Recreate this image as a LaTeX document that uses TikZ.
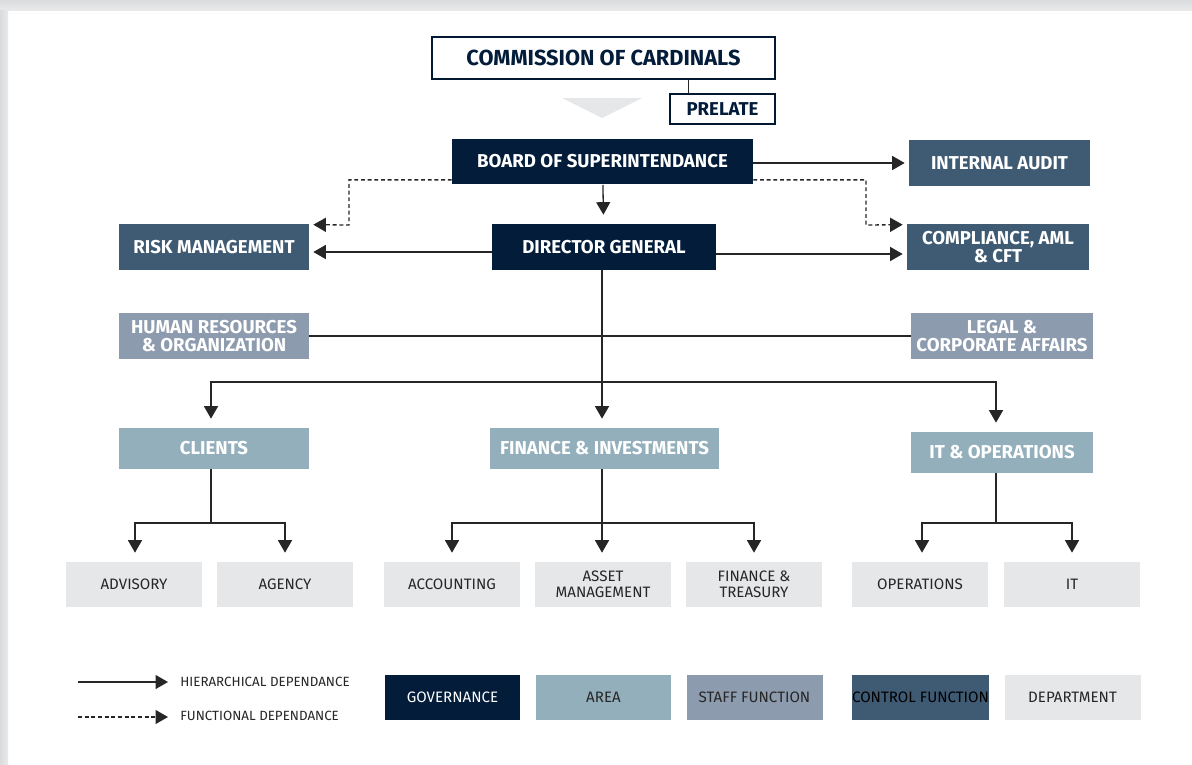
\documentclass[tikz,border=0pt]{standalone}
\usepackage{fontspec}
\setmainfont{Fira Sans}
\usetikzlibrary{arrows.meta,positioning,calc}

\definecolor{navy}{HTML}{021C3A}
\definecolor{control}{HTML}{3F5A73}
\definecolor{staff}{HTML}{8D9BAF}
\definecolor{area}{HTML}{94AFBC}
\definecolor{dept}{HTML}{E6E7E8}
\definecolor{shadow}{HTML}{DADBDC}

\begin{document}
\begin{tikzpicture}[x=0.02cm, y=-0.02cm]

    % Styles
    \tikzstyle{box} = [rectangle, inner sep=0pt, align=center, minimum height=0.92cm]
    \tikzstyle{headtxt} = [font=\bfseries\fontsize{10.6}{10.2}\selectfont]
    \tikzstyle{topbox} = [box, draw=navy!85!black, line width=0.8pt, fill=white, text=navy, headtxt]
    \tikzstyle{governance} = [box, fill=navy, text=white, headtxt]
    \tikzstyle{controlfn} = [box, fill=control, text=white, headtxt]
    \tikzstyle{stafffn} = [box, fill=staff, text=white, headtxt]
    \tikzstyle{areabox} = [box, fill=area, text=white, headtxt, minimum height=0.82cm]
    \tikzstyle{deptbox} = [box, fill=dept, text=black!85, minimum width=2.72cm, minimum height=0.9cm, font=\fontsize{8.6}{8.8}\selectfont]
    \tikzstyle{legendbox} = [deptbox]
    \tikzstyle{legendtxt} = [anchor=west, inner sep=0pt, text=black!85, font=\fontsize{7.6}{8}\selectfont]
    \tikzstyle{arrow} = [line width=0.75pt, draw=black!85, -{Triangle[width=0.28cm,length=0.25cm]}, shorten >=0.18cm]
    \tikzstyle{sidearrow} = [arrow, shorten >=0.08cm]
    \tikzstyle{funct} = [sidearrow, dash pattern=on 2.2pt off 1.6pt]
    \tikzstyle{plain} = [line width=0.75pt, draw=black!85]

    \useasboundingbox (0,0) rectangle (1192,764);
    \fill[white] (0,0) rectangle (1192,764);
    \shade[top color=shadow, bottom color=shadow!60] (0,0) rectangle (1192,10);
    \shade[left color=shadow, right color=shadow!60] (0,10) rectangle (8,764);

    % Governance
    \node (commission) [topbox, minimum width=6.86cm, minimum height=0.84cm, font=\bfseries\fontsize{12.4}{12.4}\selectfont] at (603.5,58) {COMMISSION OF CARDINALS};
    \node (prelate) [topbox, minimum width=2.1cm, minimum height=0.6cm, line width=0.6pt] at (722.5,109) {PRELATE};
    \fill[dept] (562,98) -- (642,98) -- (602,118) -- cycle;
    \node (board) [governance, minimum width=6.02cm] at (602.5,161.5) {BOARD OF SUPERINTENDANCE};
    \node (audit) [controlfn, minimum width=3.62cm] at (999.5,163) {INTERNAL AUDIT};
    \node (dg) [governance, minimum width=4.48cm] at (604,247) {DIRECTOR GENERAL};
    \node (risk) [controlfn, minimum width=3.8cm] at (214,247) {RISK MANAGEMENT};
    \node (compliance) [controlfn, minimum width=3.64cm] at (998,247) {COMPLIANCE, AML\\\& CFT};

    % Staff functions
    \node (hr) [stafffn, minimum width=3.8cm] at (214,336) {HUMAN RESOURCES\\\& ORGANIZATION};
    \node (legal) [stafffn, minimum width=3.64cm] at (1002,336) {LEGAL \&\\CORPORATE AFFAIRS};

    % Areas
    \node (clients) [areabox, minimum width=3.8cm] at (214,448.5) {CLIENTS};
    \node (finance) [areabox, minimum width=4.58cm] at (604.5,448.5) {FINANCE \& INVESTMENTS};
    \node (itops) [areabox, minimum width=3.64cm] at (1002,452.5) {IT \& OPERATIONS};

    % Departments
    \node (advisory) [deptbox] at (134,584.5) {ADVISORY};
    \node (agency) [deptbox] at (285,584.5) {AGENCY};
    \node (accounting) [deptbox] at (452,584.5) {ACCOUNTING};
    \node (asset) [deptbox] at (603,584.5) {ASSET\\MANAGEMENT};
    \node (treasury) [deptbox] at (754,584.5) {FINANCE \&\\TREASURY};
    \node (operations) [deptbox] at (920,584.5) {OPERATIONS};
    \node (it) [deptbox] at (1072,584.5) {IT};

    % Branch points
    \coordinate (split) at (602,382);
    \coordinate (clsplit) at (211,523);
    \coordinate (fisplit) at (602,523);
    \coordinate (itsplit) at (996,523);
    \coordinate (dleft) at (349,225);
    \coordinate (dright) at (866,225);

    % Arrows
    \draw[plain] ([xshift=-1.74cm]commission.south east) -- ([xshift=-1.74cm]commission.south east |- prelate.north);
    \draw[sidearrow] (board.east |- audit.west) -- (audit.west);
    \draw[arrow] (board) -- (dg);
    \draw[funct] ([yshift=0.1cm]board.south west) -| (dleft) -- ([yshift=-0.02cm]risk.north east);
    \draw[funct] ([yshift=0.1cm]board.south east) -| (dright) -- ([yshift=-0.02cm]compliance.north west);
    \draw[sidearrow] ([yshift=-0.1cm]dg.west) -- ([yshift=-0.1cm]risk.east);
    \draw[sidearrow] ([yshift=-0.14cm]dg.east) -- ([yshift=-0.14cm]compliance.west);
    \draw[plain] (hr) -- (legal);
    \draw[arrow] (dg.south -| split) -- (finance.north -| split);
    \draw[arrow] (split) -| (clients.north -| clsplit);
    \draw[arrow] (split) -| (itops.north -| itsplit);

    \draw[plain] (clients.south -| clsplit) -- (clsplit);
    \draw[arrow] (clsplit) -| ([xshift=0.02cm]advisory.north);
    \draw[arrow] (clsplit) -| (agency);
    \draw[arrow] (finance.south -| fisplit) -- (asset.north -| fisplit);
    \draw[arrow] (fisplit) -| (accounting);
    \draw[arrow] (fisplit) -| (treasury);
    \draw[plain] (itops.south -| itsplit) -- (itsplit);
    \draw[arrow] (itsplit) -| ([xshift=0.04cm]operations.north);
    \draw[arrow] (itsplit) -| (it);

    % Legend
    \coordinate (h0) at (78,682);
    \coordinate (h1) at (168,682);
    \coordinate (f0) at (78,717);
    \coordinate (f1) at (168,717);
    \draw[arrow, shorten >=0pt] (h0) -- (h1);
    \draw[funct, shorten >=0pt] (f0) -- (f1);
    \node (hlabel) [legendtxt] at (180,682) {HIERARCHICAL DEPENDANCE};
    \node (flabel) [legendtxt] at (180,716) {FUNCTIONAL DEPENDANCE};
    \node (lgov) [legendbox, fill=navy, text=white] at (452.5,697.5) {GOVERNANCE};
    \node (larea) [legendbox, fill=area] at (603.5,697.5) {AREA};
    \node (lstaff) [legendbox, fill=staff] at (754.5,697.5) {STAFF FUNCTION};
    \node (lcontrol) [legendbox, fill=control, text=black] at (920.5,697.5) {CONTROL FUNCTION};
    \node (ldept) [legendbox] at (1072.5,697.5) {DEPARTMENT};

\end{tikzpicture}
\end{document}
